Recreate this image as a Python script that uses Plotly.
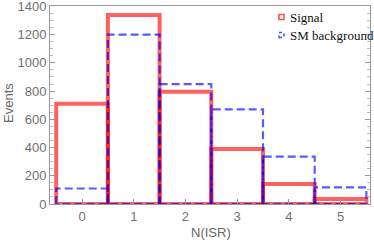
import plotly.graph_objects as go

# Data
bins = [0, 1, 2, 3, 4, 5]
signal = [710, 1340, 795, 390, 142, 35]
background = [110, 1200, 850, 670, 335, 118]
x_ticks = [0, 1, 2, 3, 4, 5]
y_ticks = [0, 200, 400, 600, 800, 1000, 1200, 1400]


def outline(centers, values, half=0.5):
    xs, ys = [], []
    for c, v in zip(centers, values):
        xs += [c - half, c - half, c + half, c + half, c - half, None]
        ys += [0, v, v, 0, 0, None]
    return xs, ys


fig = go.Figure()
sx, sy = outline(bins, signal)
bx, by = outline(bins, background)
fig.add_trace(go.Scatter(x=sx, y=sy, mode="lines", cliponaxis=False,
                         line=dict(color="rgba(255,0,0,0.62)", width=4),
                         showlegend=False, hoverinfo="skip"))
fig.add_trace(go.Scatter(x=bx, y=by, mode="lines", cliponaxis=False,
                         line=dict(color="rgba(0,0,255,0.65)", width=2.2, dash="8px,4px"),
                         showlegend=False, hoverinfo="skip"))

axis_common = dict(
    showline=True, linecolor="#999999", linewidth=1,
    ticks="inside", ticklen=5, tickcolor="#999999", tickwidth=1,
    showgrid=False, zeroline=False, ticklabeloverflow="allow", automargin=False,
    tickfont=dict(family="Liberation Sans", size=13, color="#707070"),
)
fig.update_xaxes(range=[-0.62, 5.57], tickvals=x_ticks, mirror=True,
                 **axis_common)
fig.update_yaxes(range=[0, 1403], tickvals=y_ticks, mirror="ticks",
                 minor=dict(ticks="inside", ticklen=3, dtick=50, tickcolor="#bbbbbb"),
                 **axis_common)

# axis titles
fig.add_annotation(text="Events", xref="paper", yref="paper",
                   x=(8 - 50) / 320, y=(204 - 103) / 198,
                   xanchor="center", yanchor="middle",
                   textangle=-90, showarrow=False,
                   font=dict(family="Liberation Sans", size=13, color="#666666"))
fig.add_annotation(text="N(ISR)", xref="paper", yref="paper",
                   x=(211 - 50) / 320, y=(204 - 232) / 198,
                   xanchor="center", yanchor="middle", showarrow=False,
                   font=dict(family="Liberation Sans", size=13, color="#666666"))

# legend
legend_items = [("Signal", "rgba(255,0,0,0.7)", "solid", 17),
                ("SM background", "rgba(0,0,255,0.7)", "dot", 35)]
for label, col, dash, ypix in legend_items:
    fig.add_shape(type="rect", xref="paper", yref="paper",
                  x0=(279 - 50) / 320, x1=(284 - 50) / 320,
                  y0=(204 - ypix - 2.5) / 198, y1=(204 - ypix + 2.5) / 198,
                  line=dict(color=col, width=1.5, dash=dash))
    fig.add_annotation(text=label, xref="paper", yref="paper",
                       x=(288 - 50) / 320, y=(204 - ypix) / 198,
                       xanchor="left", yanchor="middle", showarrow=False,
                       font=dict(family="Liberation Serif", size=13, color="#111111"))

fig.update_layout(width=374, height=240,
                  margin=dict(l=50, r=4, t=6, b=36),
                  plot_bgcolor="white", paper_bgcolor="white")

fig.write_html("out.html", config={"displayModeBar": False},
               post_script="document.body.style.margin='0';document.body.style.overflow='hidden';")
